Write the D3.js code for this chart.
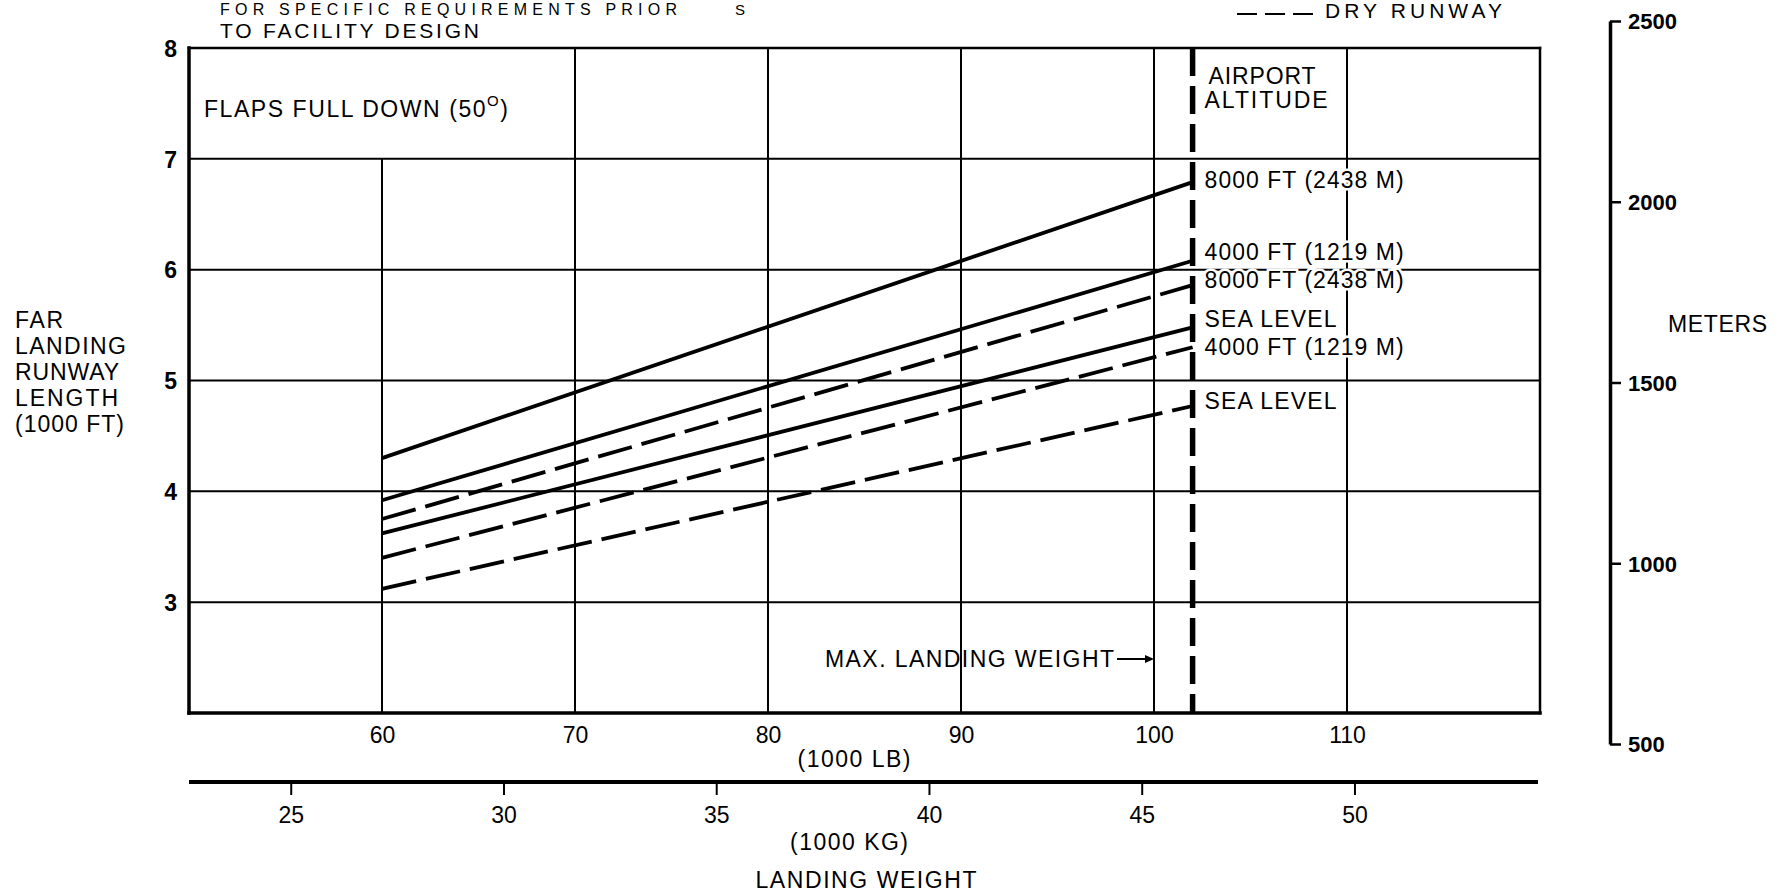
<!DOCTYPE html>
<html><head><meta charset="utf-8">
<script src="https://cdn.jsdelivr.net/npm/d3@7"></script>
<style>
body{margin:0;background:#fff}
svg{display:block}
.cond{font-family:'Liberation Sans Narrow','Liberation Sans',Arial,sans-serif}
.helv{font-family:'Liberation Sans',Arial,sans-serif}
</style></head>
<body><svg id="c" width="1786" height="894"></svg>
<script>
// ---------- data ----------
const weightsLb = [60, 102];            // line start / end (1000 LB)
const wet8000 = [4.30, 6.79];           // solid (wet runway), 1000 FT
const wet4000 = [3.92, 6.08];
const wetSea  = [3.62, 5.48];
const dry8000 = [3.75, 5.86];           // dashed (dry runway)
const dry4000 = [3.40, 5.30];
const drySea  = [3.12, 4.77];
const maxLandingWeight = 102;           // 1000 LB
const altitudeLabels = ["8000 FT (2438 M)", "4000 FT (1219 M)", "8000 FT (2438 M)", "SEA LEVEL", "4000 FT (1219 M)", "SEA LEVEL"];
const lbTicks = [60, 70, 80, 90, 100, 110];
const ftTicks = [3, 4, 5, 6, 7, 8];
const kgTicks = [25, 30, 35, 40, 45, 50];
const mTicks  = [500, 1000, 1500, 2000, 2500];
const LB_PER_KG = 2.20462;

// ---------- scales ----------
const svg = d3.select("#c");
const x = d3.scaleLinear().domain([50, 120]).range([189, 1540]);
const y = d3.scaleLinear().domain([2, 8]).range([713, 48]);
const xKg = d3.scaleLinear().domain([50 / LB_PER_KG, 120 / LB_PER_KG]).range([192, 1543]);
const yM = d3.scaleLinear().domain([500, 2500]).range([744, 21]);

// ---------- top notes ----------
svg.append("text").attr("class","cond").attr("x",220).attr("y",15).attr("font-size",16)
  .attr("textLength",457).attr("lengthAdjust","spacing").text("FOR SPECIFIC REQUIREMENTS PRIOR");
svg.append("text").attr("class","cond").attr("x",220).attr("y",38).attr("font-size",21)
  .attr("textLength",259).attr("lengthAdjust","spacing").text("TO FACILITY DESIGN");
svg.append("text").attr("class","cond").attr("x",735).attr("y",15).attr("font-size",15).text("S");

// legend (dry runway)
svg.append("line").attr("x1",1237).attr("x2",1321).attr("y1",14).attr("y2",14)
  .attr("stroke","#000").attr("stroke-width",2.2).attr("stroke-dasharray","20,8");
svg.append("text").attr("class","cond").attr("x",1325).attr("y",18).attr("font-size",21)
  .attr("textLength",177).attr("lengthAdjust","spacing").text("DRY RUNWAY");

// ---------- grid ----------
const grid = svg.append("g").attr("stroke","#000").attr("stroke-width",2);
grid.selectAll("line.h").data(ftTicks.filter(v => v < 8)).join("line")
  .attr("x1", x(50)).attr("x2", x(120)).attr("y1", d => y(d)).attr("y2", d => y(d));
grid.selectAll("line.v").data(lbTicks).join("line")
  .attr("x1", d => x(d)).attr("x2", d => x(d))
  .attr("y1", d => d === 60 ? y(7) : y(8)).attr("y2", y(2));

// frame
const fr = svg.append("g").attr("stroke","#000").attr("stroke-linecap","square");
fr.append("line").attr("x1",x(50)).attr("x2",x(120)).attr("y1",y(8)).attr("y2",y(8)).attr("stroke-width",2.5);
fr.append("line").attr("x1",x(120)).attr("x2",x(120)).attr("y1",y(8)).attr("y2",y(2)).attr("stroke-width",2.5);
fr.append("line").attr("x1",x(50)).attr("x2",x(50)).attr("y1",y(8)).attr("y2",y(2)).attr("stroke-width",3.5);
fr.append("line").attr("x1",x(50)).attr("x2",x(120)).attr("y1",y(2)).attr("y2",y(2)).attr("stroke-width",3.5);

// ---------- axes ----------
const yAxis = svg.append("g").attr("transform",`translate(${x(50)},0)`)
  .call(d3.axisLeft(y).tickValues(ftTicks).tickSize(0).tickPadding(12).tickFormat(d3.format("d")));
yAxis.select(".domain").remove();
yAxis.selectAll("text").attr("class","helv").attr("font-size",23).attr("font-weight","bold").attr("fill","#000").attr("dy","0.36em");

const xAxis = svg.append("g").attr("transform",`translate(0,${y(2)})`)
  .call(d3.axisBottom(x).tickValues(lbTicks).tickSize(0).tickFormat(d3.format("d")));
xAxis.select(".domain").remove();
xAxis.selectAll("text").attr("class","cond").attr("font-size",23).attr("fill","#000").attr("dy",null).attr("y",30);

const kgAxis = svg.append("g").attr("transform","translate(0,782)")
  .call(d3.axisBottom(xKg).tickValues(kgTicks).tickSize(13).tickSizeOuter(0).tickFormat(d3.format("d")));
kgAxis.select(".domain").attr("stroke-width",4).attr("d",`M${x(50)},0H${x(120)-2}`);
kgAxis.selectAll(".tick line").attr("stroke-width",2);
kgAxis.selectAll("text").attr("class","cond").attr("font-size",23).attr("fill","#000").attr("dy",null).attr("y",41);

const mAxis = svg.append("g").attr("transform","translate(1610,0)")
  .call(d3.axisRight(yM).tickValues(mTicks).tickSize(11).tickSizeOuter(0).tickPadding(7).tickFormat(d3.format("d")));
mAxis.select(".domain").attr("stroke-width",3.5);
mAxis.selectAll(".tick line").attr("stroke-width",2.5);
mAxis.selectAll("text").attr("class","helv").attr("font-size",22).attr("font-weight","bold").attr("fill","#000").attr("dy","0.36em");

// axis titles
const yTitle = ["FAR", "LANDING", "RUNWAY", "LENGTH", "(1000 FT)"];
const yTitleLen = [48, 111, 104, 103, 109];
svg.append("g").selectAll("text").data(yTitle).join("text").attr("class","helv")
  .attr("x",15).attr("y",(d,i) => 328 + i*26).attr("font-size",23)
  .attr("textLength",(d,i)=>yTitleLen[i]).attr("lengthAdjust","spacing").text(d => d);
svg.append("text").attr("class","helv").attr("x",1668).attr("y",332).attr("font-size",23)
  .attr("textLength",99).attr("lengthAdjust","spacing").text("METERS");
svg.append("text").attr("class","cond").attr("x",854).attr("y",767).attr("font-size",23).attr("text-anchor","middle")
  .attr("textLength",113).attr("lengthAdjust","spacing").text("(1000 LB)");
svg.append("text").attr("class","cond").attr("x",849).attr("y",850).attr("font-size",23).attr("text-anchor","middle")
  .attr("textLength",118).attr("lengthAdjust","spacing").text("(1000 KG)");
svg.append("text").attr("class","cond").attr("x",866).attr("y",888).attr("font-size",23).attr("text-anchor","middle")
  .attr("textLength",221).attr("lengthAdjust","spacing").text("LANDING WEIGHT");

// ---------- series ----------
const series = [
  {vals: wet8000, dash: null,    dy: 6},
  {vals: wet4000, dash: null,    dy: -1},
  {vals: dry8000, dash: "35,10", dy: 3},
  {vals: wetSea,  dash: null,    dy: 0},
  {vals: dry4000, dash: "35,10", dy: 8},
  {vals: drySea,  dash: "35,10", dy: 3}
];
const line = d3.line().x((d, i) => x(weightsLb[i])).y(d => y(d));
svg.append("g").selectAll("path").data(series).join("path")
  .attr("d", s => line(s.vals)).attr("fill","none").attr("stroke","#000")
  .attr("stroke-width",3.8).attr("stroke-dasharray", s => s.dash);

// max landing weight / airport altitude dashed vertical
svg.append("line").attr("x1",x(maxLandingWeight)).attr("x2",x(maxLandingWeight))
  .attr("y1",y(8)).attr("y2",y(2)).attr("stroke","#000").attr("stroke-width",5.5)
  .attr("stroke-dasharray","28,10");

// labels
const labelX = x(maxLandingWeight) + 12;
const lab = svg.append("g").attr("class","helv").attr("font-size",23)
  .attr("stroke","#fff").attr("stroke-width",5).attr("paint-order","stroke").attr("fill","#000");
lab.append("text").attr("x",labelX+4).attr("y",84).attr("textLength",107).attr("lengthAdjust","spacing").text("AIRPORT");
lab.append("text").attr("x",labelX).attr("y",108).attr("textLength",123).attr("lengthAdjust","spacing").text("ALTITUDE");
lab.selectAll("text.alt").data(series).join("text").attr("class","alt")
  .attr("x",labelX).attr("y",(s) => y(s.vals[1]) + s.dy)
  .attr("textLength",(s,i) => altitudeLabels[i].startsWith("SEA") ? 132 : 199).attr("lengthAdjust","spacing")
  .text((s,i) => altitudeLabels[i]);

// flaps note
const fl = svg.append("text").attr("class","helv").attr("x",204).attr("y",117).attr("font-size",23)
  .attr("textLength",304).attr("lengthAdjust","spacing");
fl.append("tspan").text("FLAPS FULL DOWN  (50");
fl.append("tspan").attr("font-size",15).attr("dy",-11).text("O");
fl.append("tspan").attr("dy",11).text(")");

// max landing weight note + arrow
svg.append("text").attr("class","cond").attr("x",1114).attr("y",667).attr("font-size",23).attr("text-anchor","end")
  .attr("textLength",289).attr("lengthAdjust","spacing").text("MAX. LANDING WEIGHT");
svg.append("line").attr("x1",1117).attr("x2",1147).attr("y1",659).attr("y2",659).attr("stroke","#000").attr("stroke-width",2);
svg.append("path").attr("d",`M1145,655L${x(100)},659L1145,663Z`).attr("fill","#000");
</script>
</body></html>
